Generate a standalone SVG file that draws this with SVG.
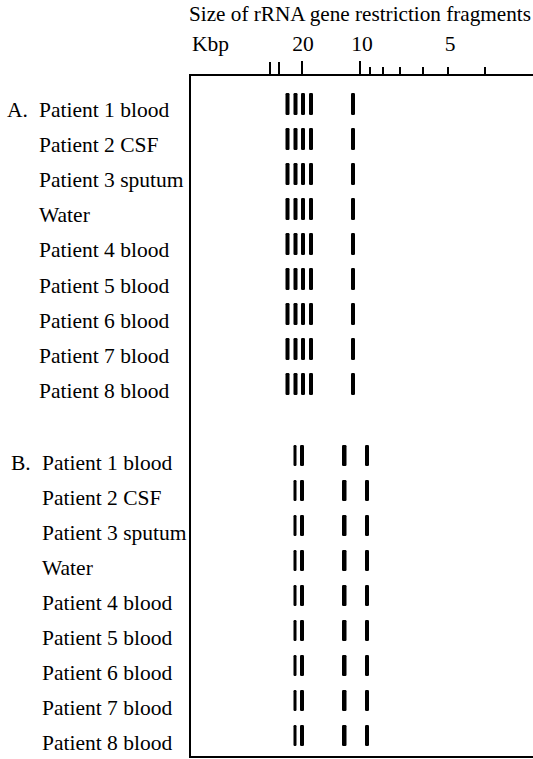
<svg xmlns="http://www.w3.org/2000/svg" width="533" height="759" viewBox="0 0 533 759">
<style>
text{font-family:"Liberation Serif","Times New Roman",serif;font-size:21.5px;fill:#000}
.hd{font-size:21px}
.ax{stroke:#000;stroke-width:2;fill:none}
.tk{stroke:#000;stroke-width:2}
.b{fill:#000}
</style>
<defs>
<g id="bandsA">
<rect class="b" x="285.5" y="0" width="4" height="22" rx="1.2"/>
<rect class="b" x="293.5" y="0" width="4" height="22" rx="1.2"/>
<rect class="b" x="301" y="0" width="4" height="22" rx="1.2"/>
<rect class="b" x="309" y="0" width="4" height="22" rx="1.2"/>
<rect class="b" x="351" y="0" width="4" height="22" rx="1.2"/>
</g>
<g id="bandsB">
<rect class="b" x="293.5" y="0" width="3" height="21" rx="1.2"/>
<rect class="b" x="300" y="0" width="4" height="21" rx="1.2"/>
<rect class="b" x="342" y="0" width="4.5" height="21" rx="1.2"/>
<rect class="b" x="365" y="0" width="4" height="21" rx="1.2"/>
</g>
</defs>
<g id="header">
<text class="hd" x="189" y="21" textLength="342" lengthAdjust="spacingAndGlyphs">Size of rRNA gene restriction fragments</text>
<text x="192" y="51">Kbp</text>
<text x="303" y="51" text-anchor="middle">20</text>
<text x="362" y="51" text-anchor="middle">10</text>
<text x="450" y="51" text-anchor="middle">5</text>
</g>
<g id="axis">
<path class="ax" d="M533,757 H190 V75 H533"/>
<path class="tk" d="M270,62V75M279,62V75M302,61V75M360,61V75M370,67V75M383,67V75M400,67V75M423,67V75M448,67V75M485,67V75"/>
</g>
<g id="panelA">
<text x="7" y="117">A.</text>
<g id="A1"><text x="39" y="117">Patient 1 blood</text><use href="#bandsA" y="93"/></g>
<g id="A2"><text x="39" y="152">Patient 2 CSF</text><use href="#bandsA" y="128"/></g>
<g id="A3"><text x="39" y="187">Patient 3 sputum</text><use href="#bandsA" y="163"/></g>
<g id="A4"><text x="39" y="222">Water</text><use href="#bandsA" y="198"/></g>
<g id="A5"><text x="39" y="257">Patient 4 blood</text><use href="#bandsA" y="233"/></g>
<g id="A6"><text x="39" y="292.5">Patient 5 blood</text><use href="#bandsA" y="268"/></g>
<g id="A7"><text x="39" y="327.5">Patient 6 blood</text><use href="#bandsA" y="303"/></g>
<g id="A8"><text x="39" y="362.5">Patient 7 blood</text><use href="#bandsA" y="338"/></g>
<g id="A9"><text x="39" y="398">Patient 8 blood</text><use href="#bandsA" y="373"/></g>
</g>
<g id="panelB">
<text x="11" y="470">B.</text>
<g id="B1"><text x="42" y="470">Patient 1 blood</text><use href="#bandsB" y="445"/></g>
<g id="B2"><text x="42" y="505">Patient 2 CSF</text><use href="#bandsB" y="480"/></g>
<g id="B3"><text x="42" y="540">Patient 3 sputum</text><use href="#bandsB" y="515"/></g>
<g id="B4"><text x="42" y="575">Water</text><use href="#bandsB" y="550"/></g>
<g id="B5"><text x="42" y="610">Patient 4 blood</text><use href="#bandsB" y="585"/></g>
<g id="B6"><text x="42" y="645">Patient 5 blood</text><use href="#bandsB" y="620"/></g>
<g id="B7"><text x="42" y="680">Patient 6 blood</text><use href="#bandsB" y="655"/></g>
<g id="B8"><text x="42" y="715">Patient 7 blood</text><use href="#bandsB" y="690"/></g>
<g id="B9"><text x="42" y="750">Patient 8 blood</text><use href="#bandsB" y="725"/></g>
</g>
</svg>
